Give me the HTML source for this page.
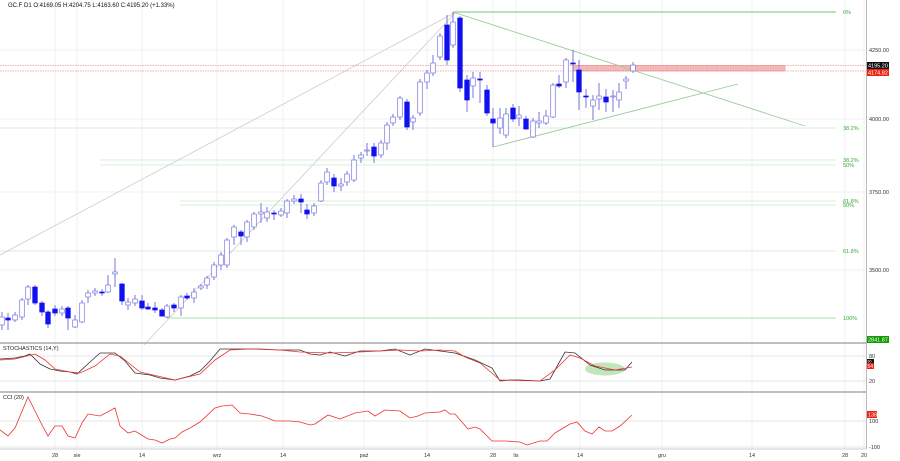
<!DOCTYPE html>
<html><head><meta charset="utf-8"><style>
html,body{margin:0;padding:0;background:#fff;}
svg{display:block;font-family:"Liberation Sans",sans-serif;}
</style></head><body>
<svg id="s" width="900" height="461" xmlns="http://www.w3.org/2000/svg">
<rect width="900" height="461" fill="#fff"/>
<g id="grid" stroke="#f0f0f0" stroke-width="1"></g>
<g stroke="#d4efd4" stroke-width="1">
<line x1="0" y1="128" x2="836" y2="128"/>
<line x1="100" y1="160" x2="836" y2="160"/>
<line x1="100" y1="165" x2="836" y2="165"/>
<line x1="180" y1="201" x2="836" y2="201"/>
<line x1="180" y1="205" x2="836" y2="205"/>
<line x1="0" y1="251" x2="836" y2="251"/>
</g>
<line x1="167" y1="318" x2="836" y2="318" stroke="#a8e0a8" stroke-width="1"/>
<line x1="453" y1="12" x2="836" y2="12" stroke="#6cc86c" stroke-width="1"/>
<g fill="#3a3" font-size="5.5">
<text x="843" y="14">0%</text>
<text x="843" y="130">38.2%</text>
<text x="843" y="162">38.2%</text>
<text x="843" y="167">50%</text>
<text x="843" y="203">61.8%</text>
<text x="843" y="207">50%</text>
<text x="843" y="253">61.8%</text>
<text x="843" y="320">100%</text>
</g>
<line x1="0" y1="255" x2="456" y2="12" stroke="#ccc" stroke-width="0.8"/>
<line x1="144" y1="345" x2="456" y2="12" stroke="#ccc" stroke-width="0.8"/>
<rect x="573" y="65.5" width="212" height="5.5" fill="#f4b8b8" stroke="#e88" stroke-width="0.5"/>
<line x1="0" y1="65.5" x2="866" y2="65.5" stroke="#e66" stroke-width="0.6" stroke-dasharray="1.5,1"/>
<line x1="0" y1="71" x2="866" y2="71" stroke="#e66" stroke-width="0.6" stroke-dasharray="1.5,1"/>
<line x1="453" y1="12" x2="805" y2="126" stroke="#9c9" stroke-width="0.9"/>
<line x1="493" y1="147" x2="738" y2="84" stroke="#9c9" stroke-width="0.9"/>
<g id="candles"></g>
<text x="8" y="7" font-size="6" fill="#111">GC.F  D1  O:4169.05  H:4204.75  L:4163.60  C:4195.20  (+1.33%)</text>
<line x1="0" y1="343" x2="866" y2="343" stroke="#aaa" stroke-width="1.5"/>
<line x1="0" y1="392" x2="866" y2="392" stroke="#aaa" stroke-width="1.5"/>
<line x1="0" y1="356" x2="866" y2="356" stroke="#e6e6e6"/>
<line x1="0" y1="381" x2="866" y2="381" stroke="#e6e6e6"/>
<line x1="0" y1="421" x2="866" y2="421" stroke="#e6e6e6"/>
<line x1="0" y1="447" x2="866" y2="447" stroke="#e6e6e6"/>
<line x1="866.5" y1="0" x2="866.5" y2="449" stroke="#bbb"/>
<line x1="0" y1="449" x2="866" y2="449" stroke="#ccc"/>
<text x="3" y="350" font-size="5.5" fill="#222">STOCHASTICS (14,Y)</text>
<text x="3" y="399" font-size="5.5" fill="#222">CCI (20)</text>
<ellipse cx="605" cy="369" rx="20" ry="6.5" fill="#a8dca0" opacity="0.7"/>
<polyline id="sk" fill="none" stroke="#333" stroke-width="0.8"/>
<polyline id="sr" fill="none" stroke="#e33" stroke-width="0.8"/>
<polyline id="cci" fill="none" stroke="#e33" stroke-width="0.8"/>
<g font-size="5.5" fill="#333">
<text x="869" y="52">4250.00</text>
<text x="869" y="121">4000.00</text>
<text x="869" y="194">3750.00</text>
<text x="869" y="272">3500.00</text>
<text x="869" y="358">80</text>
<text x="869" y="383">20</text>
<text x="869" y="423">100</text>
<text x="869" y="449">-100</text>
</g>
<rect x="867" y="62" width="22" height="7" fill="#111"/><text x="868" y="67.5" font-size="5.5" fill="#fff">4195.20</text>
<rect x="867" y="69" width="22" height="7" fill="#e21"/><text x="868" y="74.5" font-size="5.5" fill="#fff">4174.82</text>
<rect x="867" y="336" width="22" height="7" fill="#190"/><text x="868" y="341.5" font-size="5.5" fill="#fff">2841.87</text>
<rect x="867" y="359" width="7" height="4" fill="#111"/><text x="867.5" y="362.5" font-size="3.5" fill="#fff">60</text>
<rect x="867" y="363" width="7" height="6" fill="#e21"/><text x="867.5" y="368" font-size="5" fill="#fff">54</text>
<rect x="867" y="411" width="10" height="7" fill="#e21"/><text x="868" y="416.5" font-size="5.5" fill="#fff">138</text>
<g id="dates" font-size="5.5" fill="#333" text-anchor="middle"></g>
</svg>
<script>
var NS="http://www.w3.org/2000/svg";
function el(p,t,a){var e=document.createElementNS(NS,t);for(var k in a)e.setAttribute(k,a[k]);p.appendChild(e);return e;}
var dates=[[55,"28"],[77,"sie"],[142,"14"],[217,"wrz"],[283,"14"],[364,"paź"],[427,"14"],[493,"28"],[516,"lis"],[580,"14"],[662,"gru"],[752,"14"],[845,"28"],[864,"20"]];
var g=document.getElementById("grid"),d=document.getElementById("dates");
dates.forEach(function(a){el(g,"line",{x1:a[0],y1:0,x2:a[0],y2:449});var t=el(d,"text",{x:a[0],y:457});t.textContent=a[1];});
[50,119,192,270].forEach(function(y){el(g,"line",{x1:0,y1:y,x2:866,y2:y});});
var C=[[2,317,325,312,330,0],[8,318,320,313,330,1],[15,315,320,312,322,0],[22,300,317,298,320,0],[28,287,299,285,305,0],[35,287,303,285,305,1],[42,303,312,301,316,1],[48,312,324,310,328,1],[55,309,313,305,316,1],[62,309,313,306,316,0],[68,308,318,306,330,1],[75,320,327,315,328,0],[82,303,322,300,323,0],[88,293,297,290,303,0],[95,291,293,288,296,0],[102,292,293,289,296,1],[108,285,292,275,293,0],[115,272,274,258,287,0],[122,284,301,283,305,1],[128,302,305,298,310,0],[135,299,303,295,306,0],[142,301,308,295,310,1],[148,307,309,303,310,1],[155,308,310,302,313,1],[162,310,316,308,317,1],[167,306,317,304,318,0],[174,305,308,303,312,1],[181,297,308,295,316,0],[187,296,298,293,300,1],[194,292,298,288,303,0],[201,286,288,284,290,0],[207,278,285,276,289,0],[214,265,277,262,280,0],[221,255,265,252,270,0],[227,240,265,238,268,0],[234,227,237,225,245,0],[241,232,236,230,245,1],[247,222,237,220,242,0],[254,214,227,212,230,0],[261,212,214,203,223,0],[267,212,218,207,222,0],[274,213,214,210,220,1],[281,211,215,208,217,0],[287,201,213,199,218,0],[294,199,201,195,204,0],[301,199,202,194,213,1],[307,210,214,204,219,1],[314,206,213,203,216,0],[321,183,201,180,202,0],[327,172,182,168,185,0],[334,178,186,174,192,1],[341,184,186,178,191,0],[347,174,182,171,186,0],[354,160,180,155,182,0],[361,155,158,152,163,0],[367,150,151,143,156,0],[374,147,156,143,163,1],[381,143,155,140,158,0],[387,125,143,122,150,0],[393,117,123,114,126,0],[400,98,117,96,120,0],[407,102,127,99,130,1],[413,118,122,115,130,0],[420,82,113,79,116,0],[427,73,82,70,89,0],[433,63,73,55,76,0],[440,36,57,33,60,0],[447,25,60,15,65,1],[453,22,45,12,48,0],[460,18,88,16,92,1],[467,80,100,75,112,1],[473,78,86,72,98,0],[480,79,80,72,103,1],[487,90,113,85,116,1],[493,119,123,108,147,1],[500,118,128,108,134,0],[506,114,135,108,138,0],[513,108,119,104,122,1],[519,115,118,106,126,0],[526,119,129,116,130,1],[533,121,137,118,138,0],[539,121,123,112,128,0],[546,116,123,110,125,0],[553,85,117,83,118,0],[559,84,86,75,88,1],[566,60,82,58,88,0],[573,63,64,50,82,1],[579,70,92,60,110,1],[586,96,97,89,108,1],[593,100,106,95,120,0],[599,96,99,83,110,0],[606,97,102,89,112,1],[613,96,97,90,112,0],[619,92,100,83,108,0],[626,79,81,76,89,0],[633,65,71,62,73,0]];
var cg=document.getElementById("candles");
C.forEach(function(c){el(cg,"line",{x1:c[0],y1:c[3],x2:c[0],y2:c[4],stroke:"#66d","stroke-width":0.9});
el(cg,"rect",{x:c[0]-2.3,y:c[1],width:4.6,height:Math.max(1,c[2]-c[1]),fill:c[5]?"#11e":"#fff",stroke:c[5]?"#11e":"#77d","stroke-width":0.7});});
function pts(a){return a.map(function(p){return p.join(",")}).join(" ");}
document.getElementById("sk").setAttribute("points",pts([[0,359],[15,358],[25,356],[30,354],[40,364],[50,369],[60,371],[70,372],[77,374],[90,362],[100,353],[115,353],[125,361],[135,373],[150,375],[160,378],[175,380],[190,376],[200,371],[210,361],[220,349],[240,349],[260,349],[280,350],[300,350],[310,354],[320,355],[330,352],[345,356],[360,351],[380,351],[395,349],[410,355],[425,349],[440,351],[455,353],[475,360],[492,368],[500,381],[510,380],[520,380],[540,381],[550,379],[565,352],[575,353],[590,365],[605,370],[625,370],[632,362]]));
document.getElementById("sr").setAttribute("points",pts([[0,360],[15,359],[35,354],[45,360],[55,369],[70,372],[80,373],[95,366],[110,354],[120,356],[140,372],[175,380],[200,374],[215,360],[230,350],[250,349],[280,350],[300,352],[330,353],[360,352],[400,350],[420,351],[440,350],[455,351],[465,357],[480,363],[500,380],[540,381],[555,370],[570,355],[580,358],[595,366],[615,370],[632,367]]));
document.getElementById("cci").setAttribute("points",pts([[0,430],[8,436],[15,428],[28,397],[42,425],[48,436],[55,426],[62,426],[68,436],[75,438],[82,423],[88,414],[100,416],[115,408],[120,426],[128,433],[135,431],[148,439],[155,440],[162,443],[170,439],[175,438],[182,432],[190,428],[200,422],[215,408],[222,406],[232,405],[240,413],[250,414],[262,416],[275,421],[290,421],[300,422],[310,425],[315,424],[328,415],[340,419],[355,413],[368,411],[375,416],[385,410],[400,411],[410,418],[418,416],[425,413],[440,412],[445,410],[450,414],[455,414],[468,429],[475,427],[480,429],[492,441],[505,441],[520,442],[527,445],[540,441],[547,441],[555,433],[570,424],[577,422],[585,431],[592,434],[599,427],[605,431],[612,431],[620,426],[632,415]]));
</script>
</body></html>
